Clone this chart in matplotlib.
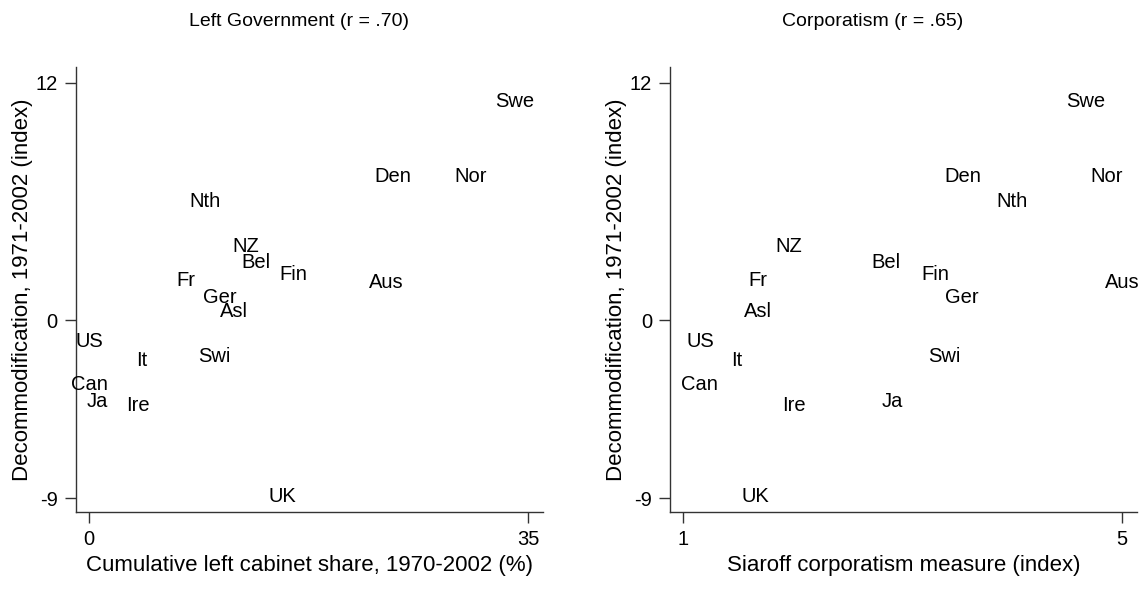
import matplotlib
matplotlib.use("Agg")
import matplotlib.pyplot as plt

plt.rcParams["font.family"] = ["Liberation Sans", "DejaVu Sans"]
plt.rcParams["axes.unicode_minus"] = False

# --------------------------------------------------------------------------- #
# Data
# --------------------------------------------------------------------------- #
countries = ["Swe", "Den", "Nor", "Nth", "NZ", "Bel", "Fin", "Aus", "Fr",
             "Ger", "Asl", "US", "It", "Swi", "Can", "Ja", "Ire", "UK"]
decommod = [11.16, 7.34, 7.34, 6.11, 3.84, 3.04, 2.40, 2.00, 2.12,
            1.27, 0.52, -1.00, -1.93, -1.72, -3.16, -4.03, -4.23, -8.83]
left_cabinet = [33.9, 24.2, 30.4, 9.2, 12.5, 13.3, 16.3, 23.7, 7.7,
                10.4, 11.5, 0.0, 4.15, 9.95, 0.0, 0.65, 3.9, 15.4]
corporatism = [4.67, 3.55, 4.86, 4.00, 1.96, 2.85, 3.30, 5.00, 1.68,
               3.54, 1.68, 1.16, 1.49, 3.38, 1.15, 2.91, 2.01, 1.66]

panels = [
    dict(x=left_cabinet, title="Left Government (r = .70)",
         xlabel="Cumulative left cabinet share, 1970-2002 (%)",
         xticks=[0, 35], xlim=(-1.08, 36.15)),
    dict(x=corporatism, title="Corporatism (r = .65)",
         xlabel="Siaroff corporatism measure (index)",
         xticks=[1, 5], xlim=(0.879, 5.134)),
]
yticks = [-9, 0, 12]
ylabel = "Decommodification, 1971-2002 (index)"

fig = plt.figure(figsize=(11.48, 5.90), dpi=100)
boxes = [[0.0659, 0.1322, 0.4068, 0.7542], [0.5836, 0.1322, 0.4066, 0.7542]]
# subgraph titles sit a little left of the plot-region centre
title_x = [299 / 1148, 873 / 1148]

for box, tx, p in zip(boxes, title_x, panels):
    ax = fig.add_axes(box)
    for name, xv, yv in zip(countries, p["x"], decommod):
        ax.text(xv, yv, name, ha="center", va="center_baseline",
                fontsize=14.5, color="black")
    ax.set_xlim(*p["xlim"])
    ax.set_ylim(-9.69, 12.79)
    ax.set_xticks(p["xticks"])
    ax.set_yticks(yticks)
    ax.spines["top"].set_visible(False)
    ax.spines["right"].set_visible(False)
    for s in ("left", "bottom"):
        ax.spines[s].set_linewidth(1.0)
        ax.spines[s].set_color("#333333")
    ax.tick_params(axis="both", length=8, width=1.0, color="#333333",
                   labelsize=14.5, pad=5)
    ax.set_xlabel(p["xlabel"], fontsize=16, labelpad=4)
    ax.set_ylabel(ylabel, fontsize=16, labelpad=2)
    fig.text(tx, 1 - 22 / 590, p["title"], ha="center", va="center",
             fontsize=14)

fig.savefig("out.png", dpi=100)
